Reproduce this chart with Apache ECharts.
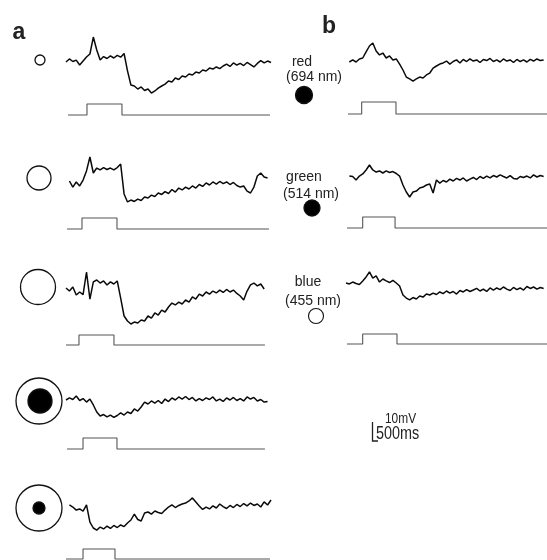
<!DOCTYPE html>
<html><head><meta charset="utf-8">
<script src="https://cdn.jsdelivr.net/npm/echarts@6/dist/echarts.min.js"></script>
<style>html,body{margin:0;padding:0;background:#fff}#c{width:547px;height:560px}</style>
</head><body><div id="c"></div>
<script>
// time axis (ms)
const timeMs = [0,50,100,150,200,250,300,350,400,450,500,550,600,650,700,750,800,850,900,950,
1000,1050,1100,1150,1200,1250,1300,1350,1400,1450,1500,1550,1600,1650,1700,1750,1800,1850,1900,1950,
2000,2050,2100,2150,2200,2250,2300,2350,2400,2450,2500,2550,2600,2650,2700,2750,2800,2850,2900,2950,3000];

// membrane potential traces (mV, relative to resting level)
const traceA1 = [0,1.9,0.3,1.2,-1.9,0.6,3.1,5.0,15.6,7.5,
1.3,3.4,2.2,3.8,2.5,4.1,3.0,5.3,-5.5,-14.4,
-15.0,-16.9,-15.6,-17.8,-16.9,-19.4,-18.1,-16.3,-15.0,-13.8,
-11.9,-12.5,-10.0,-10.9,-8.8,-9.4,-7.5,-8.1,-6.3,-6.9,
-5.0,-5.6,-3.8,-4.4,-3.1,-4.1,-2.5,-1.3,-2.8,-0.6,
-1.9,-0.9,-2.2,-0.3,-1.6,-3.1,-0.9,0.9,-0.6,0.6,-0.3];
const traceA2 = [null,2.5,-1.3,1.9,-0.6,3.1,8.8,17.5,7.5,10.6,
9.4,10.9,9.7,10.6,9.4,10.9,13.1,-5.6,-10.6,-9.4,
-10.3,-8.8,-9.7,-7.5,-8.1,-6.3,-7.2,-5.0,-5.9,-4.1,
-5.3,-2.8,-4.4,-1.9,-3.1,-1.3,-2.5,-0.6,-1.9,0.3,
-0.9,1.3,0.0,1.9,0.6,2.2,0.9,1.9,0.3,1.6,
-0.3,-1.3,-0.6,-3.8,-5.0,-1.3,5.6,7.5,5.0,4.4,null];
const traceA3 = [0,-1.9,0.6,-4.4,-2.5,-4.1,10.0,-6.9,3.8,5.0,
3.1,4.4,1.9,3.8,2.5,4.4,-6.3,-17.5,-20.6,-22.5,
-21.3,-21.9,-20.0,-20.6,-17.5,-18.8,-15.6,-16.9,-13.8,-15.0,
-11.9,-9.4,-10.6,-8.8,-10.0,-7.5,-8.8,-5.6,-6.9,-3.8,
-5.0,-2.5,-3.8,-1.9,-3.1,-1.3,-2.8,-0.9,-2.5,-1.3,
-3.4,-5.0,-7.5,-1.9,1.9,3.1,1.3,2.5,-0.6,null,null];
const traceA4 = [0,1.3,0.3,2.5,-0.3,0.9,-1.3,0.6,-3.1,-7.5,
-10.0,-9.1,-10.6,-9.4,-10.9,-9.7,-8.1,-9.4,-7.5,-8.4,
-5.6,-6.9,-4.4,-1.3,-2.5,-0.6,-1.9,-0.3,-2.2,0.6,
-1.0,1.3,0.0,1.9,0.6,2.2,0.3,1.6,-0.6,0.9,
-0.3,1.3,0.3,1.9,-0.6,0.6,-0.9,1.3,0.0,1.6,
-0.3,0.9,-0.6,1.9,0.6,1.6,-0.6,0.3,-1.3,-0.9,null];
const traceA5 = [null,1.9,0.6,-1.3,-0.6,-1.9,1.9,-8.8,-12.5,-13.8,
-11.9,-13.1,-11.3,-12.8,-10.9,-12.2,-10.6,-11.6,-9.4,-7.5,
-3.8,-7.2,-8.1,-3.1,-2.5,-3.8,-1.9,-2.8,-3.4,-1.3,
0.6,1.9,0.3,1.6,2.5,3.1,4.4,6.3,3.8,1.3,
-0.9,0.6,-0.6,1.3,0.0,2.5,0.9,-0.3,1.6,0.3,
2.2,0.9,2.8,1.3,3.1,1.6,2.5,0.6,3.8,1.9,5.0];
const traceB1 = [null,0,1.3,0.0,1.9,2.5,6.3,10.0,11.9,6.9,
4.4,5.6,2.5,3.8,1.3,1.9,-1.3,-5.0,-9.4,-10.6,
-11.9,-10.6,-9.4,-10.0,-8.1,-6.9,-3.8,-2.5,-1.3,-0.6,
0.6,-1.3,0.3,1.3,-0.6,1.6,0.3,1.9,0.6,1.3,
-0.3,1.6,0.9,2.2,0.3,1.3,0.0,1.9,0.6,1.3,
-0.3,1.6,0.3,1.3,0.0,1.6,0.6,1.9,0.9,1.3,null];
const traceB2 = [null,0.6,0.3,-1.9,0.6,1.9,4.4,7.5,4.4,3.1,
3.8,2.5,3.8,2.8,3.4,2.2,0.6,-5.0,-9.4,-12.5,
-9.4,-8.8,-6.9,-6.3,-5.0,-4.4,-10.0,-1.9,-3.8,-2.2,
-3.1,-1.3,-2.5,-0.9,-1.9,-0.6,-2.5,-1.3,-0.3,-1.6,
0.3,-0.9,0.6,-0.6,0.9,0.0,1.3,0.3,-0.6,0.9,
-0.9,-1.3,0.3,-0.3,0.6,-0.6,1.3,0.0,0.9,0.3,null];
const traceB3 = [0,-0.6,0.6,-0.3,-0.9,1.3,3.8,6.9,3.1,4.4,
0.6,2.5,1.3,0.3,1.6,0.0,-1.9,-7.5,-9.4,-10.6,
-9.1,-10.0,-8.1,-8.8,-6.9,-7.5,-6.3,-7.2,-5.6,-6.6,
-5.0,-6.3,-5.3,-6.9,-4.7,-5.6,-4.1,-5.3,-4.4,-3.4,
-5.0,-3.8,-5.3,-3.1,-4.4,-3.1,-4.1,-2.5,-3.8,-4.7,
-2.8,-4.1,-3.1,-4.4,-2.2,-3.4,-2.5,-3.8,-2.8,-3.4,null];

// light stimulus timing (ms) for each trace: a1..a5, b1..b3
const stimStart = [29,15,0,15,0,29,15,15];
const stimOn    = [307,234,190,249,249,234,249,249];
const stimOff   = [819,746,702,746,717,746,732,761];
const stimEnd   = [2985,2970,2911,2911,2985,3000,3000,3000];

// labels
const panelLabels = ['a','b'];
const colourLabels = ['red','green','blue'];
const wavelengthLabels = ['(694 nm)','(514 nm)','(455 nm)'];
const scaleLabels = ['10mV','500ms'];

const traces = [traceA1,traceA2,traceA3,traceA4,traceA5,traceB1,traceB2,traceB3];

// layout (pixels)
const traceGridPos = [[66,30],[66,153],[66,256],[66,368],[66,476],[346,30],[346,145],[346,251]];
const stimGridPos = [[66,104,11],[66,218,11],[66,335,10],[66,438,11],[66,549,10],[346,102,12],[346,217,11],[346,334,10]];

const grid=[], xAxis=[], yAxis=[], series=[];
traces.forEach((tr,i)=>{
  const [l,t] = traceGridPos[i];
  grid.push({left:l, top:t, width:205, height:80});
  xAxis.push({type:'value', gridIndex:grid.length-1, min:0, max:3000, show:false});
  yAxis.push({type:'value', gridIndex:grid.length-1, min:-30, max:20, show:false});
  const data=[];
  tr.forEach((v,k)=>{ if(v!==null) data.push([timeMs[k], v]); });
  series.push({type:'line', xAxisIndex:grid.length-1, yAxisIndex:grid.length-1, data,
    showSymbol:false, symbol:'none', lineStyle:{color:'#0a0a0a', width:1.5}, animation:false, silent:true});
});
traces.forEach((tr,i)=>{
  const [l,t,h] = stimGridPos[i];
  grid.push({left:l, top:t, width:205, height:h});
  xAxis.push({type:'value', gridIndex:grid.length-1, min:0, max:3000, show:false});
  yAxis.push({type:'value', gridIndex:grid.length-1, min:0, max:1, show:false});
  const data=[[stimStart[i],0],[stimOn[i],0],[stimOn[i],1],[stimOff[i],1],[stimOff[i],0],[stimEnd[i],0]];
  series.push({type:'line', xAxisIndex:grid.length-1, yAxisIndex:grid.length-1, data,
    showSymbol:false, symbol:'none', clip:false, lineStyle:{color:'#555', width:1.1}, animation:false, silent:true});
});

const font = '"Liberation Sans", Arial, sans-serif';
const txt = (x,y,s,size,weight,align)=>({type:'text', x, y, style:{text:s, fontSize:size, fontWeight:weight||'normal',
  fontFamily:font, fill:'#222', align:align||'center', verticalAlign:'middle'}});
const circ = (cx,cy,r,filled,lw)=>({type:'circle', shape:{cx,cy,r}, style:{fill: filled?'#000':'none', stroke:'#111', lineWidth: lw||1.3}});

const graphic = [
  txt(19,33,panelLabels[0],23,'bold'),
  txt(329,27,panelLabels[1],23,'bold'),
  circ(40,60,5,false),
  circ(39,178,12,false),
  circ(38,287,17.5,false),
  circ(39,401,23,false), circ(40,401,12,true),
  circ(39,508,23,false), circ(39,508,6,true),
  txt(302,62,colourLabels[0],14), txt(314,77,wavelengthLabels[0],14), circ(304,95,8.5,true),
  txt(304,177,colourLabels[1],14), txt(311,194,wavelengthLabels[1],14), circ(312,208,8,true),
  txt(308,282,colourLabels[2],14), txt(313,301,wavelengthLabels[2],14), circ(316,316,7.5,false,1.1),
  {type:'polyline', shape:{points:[[372.5,422],[372.5,441],[378,441]]}, style:{stroke:'#222', lineWidth:1.3, fill:'none'}},
  {type:'text', x:385, y:419, style:{text:scaleLabels[0], fontSize:14, fontFamily:font, fill:'#222', align:'left', verticalAlign:'middle'}, scaleX:0.85},
  {type:'text', x:376, y:434, style:{text:scaleLabels[1], fontSize:18, fontFamily:font, fill:'#222', align:'left', verticalAlign:'middle'}, scaleX:0.8}
];

const chart = echarts.init(document.getElementById('c'), null, {renderer:'canvas'});
chart.setOption({animation:false, backgroundColor:'#fff', grid, xAxis, yAxis, series, graphic});
</script></body></html>
